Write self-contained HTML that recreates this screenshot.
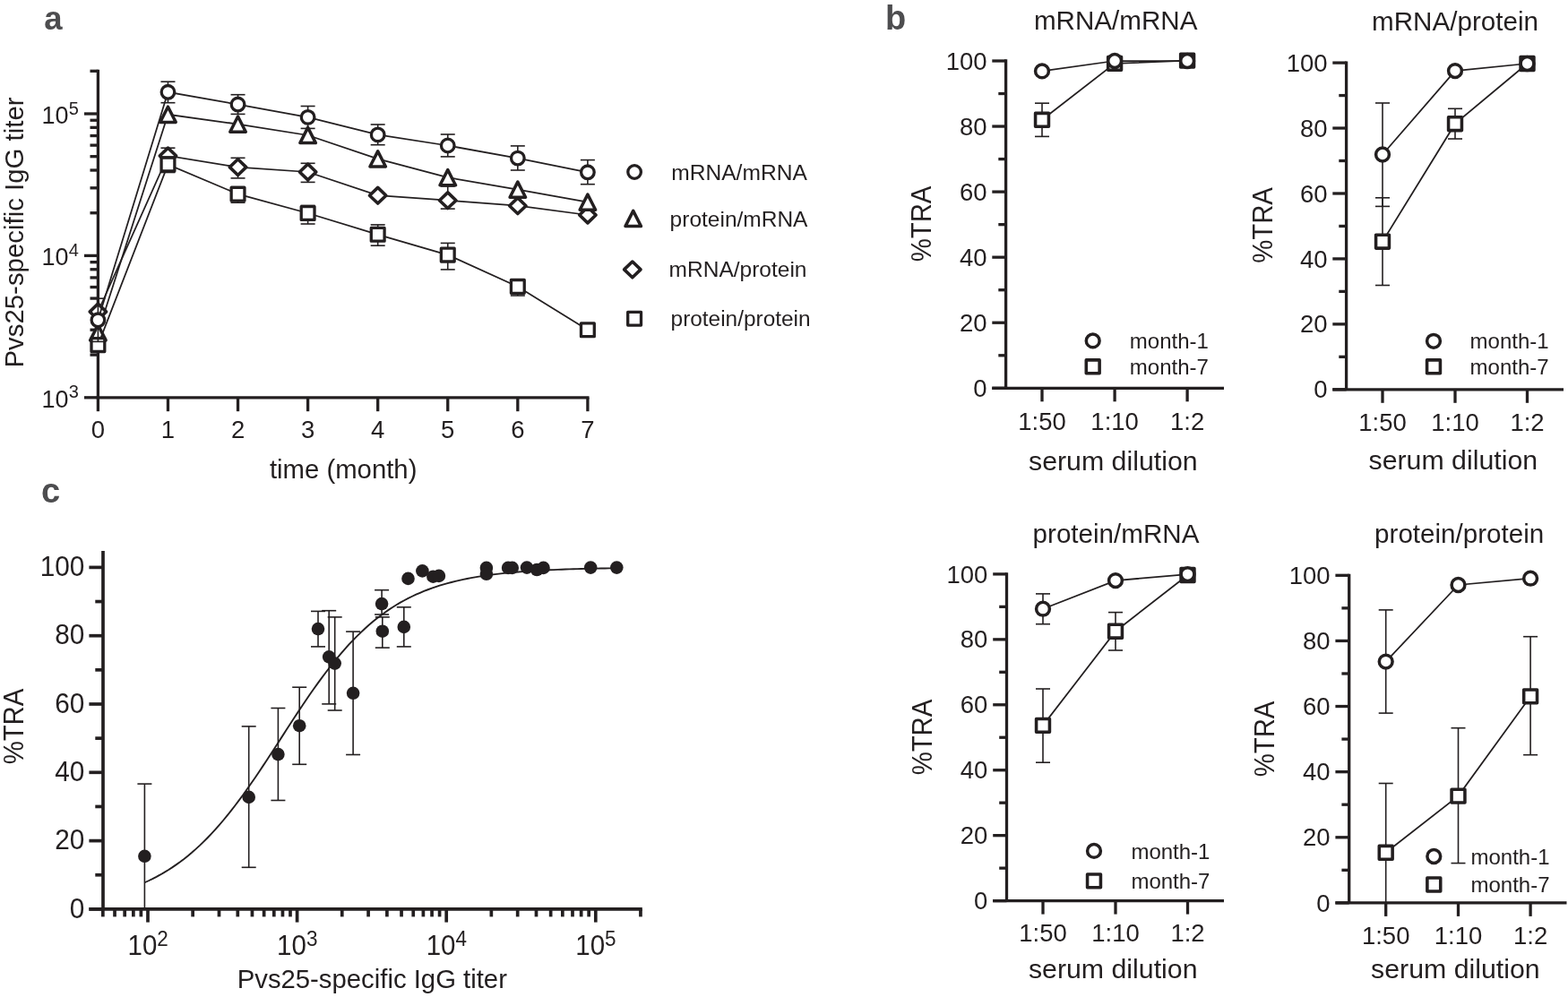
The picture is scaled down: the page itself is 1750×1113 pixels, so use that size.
<!DOCTYPE html>
<html><head><meta charset="utf-8"><title>Figure</title>
<style>
html,body{margin:0;padding:0;background:#fff;}
body{width:1750px;height:1113px;overflow:hidden;}
svg{display:block;}
text{font-family:'Liberation Sans', Arial, Helvetica, sans-serif;}
</style></head>
<body>
<svg width="1750" height="1113" viewBox="0 0 1750 1113" font-family="'Liberation Sans', Arial, Helvetica, sans-serif" fill="#231f20">
<rect width="1750" height="1113" fill="#fff"/>
<text x="49.30" y="32.90" font-size="36.5" font-weight="bold" fill="#4d4d4f">a</text>
<g stroke="#231f20" fill="none">
<line x1="109.40" y1="77.67" x2="109.40" y2="443.80" stroke-width="3.3" stroke-linecap="butt"/>
<line x1="94.00" y1="443.80" x2="109.40" y2="443.80" stroke-width="3.3" stroke-linecap="butt"/>
<line x1="100.50" y1="396.12" x2="109.40" y2="396.12" stroke-width="3.3" stroke-linecap="butt"/>
<line x1="100.50" y1="368.22" x2="109.40" y2="368.22" stroke-width="3.3" stroke-linecap="butt"/>
<line x1="100.50" y1="348.43" x2="109.40" y2="348.43" stroke-width="3.3" stroke-linecap="butt"/>
<line x1="100.50" y1="333.08" x2="109.40" y2="333.08" stroke-width="3.3" stroke-linecap="butt"/>
<line x1="100.50" y1="320.54" x2="109.40" y2="320.54" stroke-width="3.3" stroke-linecap="butt"/>
<line x1="100.50" y1="309.94" x2="109.40" y2="309.94" stroke-width="3.3" stroke-linecap="butt"/>
<line x1="100.50" y1="300.75" x2="109.40" y2="300.75" stroke-width="3.3" stroke-linecap="butt"/>
<line x1="100.50" y1="292.65" x2="109.40" y2="292.65" stroke-width="3.3" stroke-linecap="butt"/>
<line x1="94.00" y1="285.40" x2="109.40" y2="285.40" stroke-width="3.3" stroke-linecap="butt"/>
<line x1="100.50" y1="237.72" x2="109.40" y2="237.72" stroke-width="3.3" stroke-linecap="butt"/>
<line x1="100.50" y1="209.82" x2="109.40" y2="209.82" stroke-width="3.3" stroke-linecap="butt"/>
<line x1="100.50" y1="190.03" x2="109.40" y2="190.03" stroke-width="3.3" stroke-linecap="butt"/>
<line x1="100.50" y1="174.68" x2="109.40" y2="174.68" stroke-width="3.3" stroke-linecap="butt"/>
<line x1="100.50" y1="162.14" x2="109.40" y2="162.14" stroke-width="3.3" stroke-linecap="butt"/>
<line x1="100.50" y1="151.54" x2="109.40" y2="151.54" stroke-width="3.3" stroke-linecap="butt"/>
<line x1="100.50" y1="142.35" x2="109.40" y2="142.35" stroke-width="3.3" stroke-linecap="butt"/>
<line x1="100.50" y1="134.25" x2="109.40" y2="134.25" stroke-width="3.3" stroke-linecap="butt"/>
<line x1="94.00" y1="127.00" x2="109.40" y2="127.00" stroke-width="3.3" stroke-linecap="butt"/>
<line x1="100.50" y1="79.32" x2="109.40" y2="79.32" stroke-width="3.3" stroke-linecap="butt"/>
<line x1="107.75" y1="443.80" x2="657.54" y2="443.80" stroke-width="3.3" stroke-linecap="butt"/>
<line x1="109.40" y1="443.80" x2="109.40" y2="459.20" stroke-width="3.3" stroke-linecap="butt"/>
<line x1="187.47" y1="443.80" x2="187.47" y2="459.20" stroke-width="3.3" stroke-linecap="butt"/>
<line x1="265.54" y1="443.80" x2="265.54" y2="459.20" stroke-width="3.3" stroke-linecap="butt"/>
<line x1="343.61" y1="443.80" x2="343.61" y2="459.20" stroke-width="3.3" stroke-linecap="butt"/>
<line x1="421.68" y1="443.80" x2="421.68" y2="459.20" stroke-width="3.3" stroke-linecap="butt"/>
<line x1="499.75" y1="443.80" x2="499.75" y2="459.20" stroke-width="3.3" stroke-linecap="butt"/>
<line x1="577.82" y1="443.80" x2="577.82" y2="459.20" stroke-width="3.3" stroke-linecap="butt"/>
<line x1="655.89" y1="443.80" x2="655.89" y2="459.20" stroke-width="3.3" stroke-linecap="butt"/>
</g>
<g fill="#231f20" font-family="'Liberation Sans', Arial, Helvetica, sans-serif">
<text transform="translate(109.40,489.30) scale(1,1.035)" font-size="27.5" text-anchor="middle">0</text>
<text transform="translate(187.47,489.30) scale(1,1.035)" font-size="27.5" text-anchor="middle">1</text>
<text transform="translate(265.54,489.30) scale(1,1.035)" font-size="27.5" text-anchor="middle">2</text>
<text transform="translate(343.61,489.30) scale(1,1.035)" font-size="27.5" text-anchor="middle">3</text>
<text transform="translate(421.68,489.30) scale(1,1.035)" font-size="27.5" text-anchor="middle">4</text>
<text transform="translate(499.75,489.30) scale(1,1.035)" font-size="27.5" text-anchor="middle">5</text>
<text transform="translate(577.82,489.30) scale(1,1.035)" font-size="27.5" text-anchor="middle">6</text>
<text transform="translate(655.89,489.30) scale(1,1.035)" font-size="27.5" text-anchor="middle">7</text>
<text transform="translate(46.6,454.70) scale(1,1.035)" font-size="27">10<tspan font-size="20" dy="-10">3</tspan></text>
<text transform="translate(46.6,296.30) scale(1,1.035)" font-size="27">10<tspan font-size="20" dy="-10">4</tspan></text>
<text transform="translate(46.6,137.90) scale(1,1.035)" font-size="27">10<tspan font-size="20" dy="-10">5</tspan></text>
<text x="383.20" y="534.00" font-size="29.3" text-anchor="middle">time (month)</text>
<text transform="translate(26.10,259.50) rotate(-90)" font-size="29.4" text-anchor="middle">Pvs25-specific IgG titer</text>
<text x="749.20" y="201.10" font-size="24.6">mRNA/mRNA</text>
<text x="747.60" y="252.50" font-size="24.5">protein/mRNA</text>
<text x="746.60" y="308.90" font-size="24.5">mRNA/protein</text>
<text x="748.60" y="363.60" font-size="24.4">protein/protein</text>
</g>
<g stroke="#231f20" fill="none">
<polyline points="109.40,348.00 187.47,174.00 265.54,186.60 343.61,192.00 421.68,218.20 499.75,223.70 577.82,229.70 655.89,240.00" stroke-width="1.75" fill="none"/>
<line x1="187.47" y1="165.20" x2="187.47" y2="183.00" stroke-width="1.6" stroke-linecap="butt"/>
<line x1="179.47" y1="165.20" x2="195.47" y2="165.20" stroke-width="1.6" stroke-linecap="butt"/>
<line x1="179.47" y1="183.00" x2="195.47" y2="183.00" stroke-width="1.6" stroke-linecap="butt"/>
<line x1="265.54" y1="176.30" x2="265.54" y2="198.90" stroke-width="1.6" stroke-linecap="butt"/>
<line x1="257.54" y1="176.30" x2="273.54" y2="176.30" stroke-width="1.6" stroke-linecap="butt"/>
<line x1="257.54" y1="198.90" x2="273.54" y2="198.90" stroke-width="1.6" stroke-linecap="butt"/>
<line x1="343.61" y1="182.30" x2="343.61" y2="203.40" stroke-width="1.6" stroke-linecap="butt"/>
<line x1="335.61" y1="182.30" x2="351.61" y2="182.30" stroke-width="1.6" stroke-linecap="butt"/>
<line x1="335.61" y1="203.40" x2="351.61" y2="203.40" stroke-width="1.6" stroke-linecap="butt"/>
<line x1="499.75" y1="208.00" x2="499.75" y2="233.10" stroke-width="1.6" stroke-linecap="butt"/>
<line x1="491.75" y1="208.00" x2="507.75" y2="208.00" stroke-width="1.6" stroke-linecap="butt"/>
<line x1="491.75" y1="233.10" x2="507.75" y2="233.10" stroke-width="1.6" stroke-linecap="butt"/>
<path d="M109.40,339.15 L118.60,348.00 L109.40,356.85 L100.20,348.00 Z" fill="#fff" stroke-width="3.6" stroke-linejoin="round"/>
<path d="M187.47,165.15 L196.67,174.00 L187.47,182.85 L178.27,174.00 Z" fill="#fff" stroke-width="3.6" stroke-linejoin="round"/>
<path d="M265.54,177.75 L274.74,186.60 L265.54,195.45 L256.34,186.60 Z" fill="#fff" stroke-width="3.6" stroke-linejoin="round"/>
<path d="M343.61,183.15 L352.81,192.00 L343.61,200.85 L334.41,192.00 Z" fill="#fff" stroke-width="3.6" stroke-linejoin="round"/>
<path d="M421.68,209.35 L430.88,218.20 L421.68,227.05 L412.48,218.20 Z" fill="#fff" stroke-width="3.6" stroke-linejoin="round"/>
<path d="M499.75,214.85 L508.95,223.70 L499.75,232.55 L490.55,223.70 Z" fill="#fff" stroke-width="3.6" stroke-linejoin="round"/>
<path d="M577.82,220.85 L587.02,229.70 L577.82,238.55 L568.62,229.70 Z" fill="#fff" stroke-width="3.6" stroke-linejoin="round"/>
<path d="M655.89,231.15 L665.09,240.00 L655.89,248.85 L646.69,240.00 Z" fill="#fff" stroke-width="3.6" stroke-linejoin="round"/>
<polyline points="109.40,371.30 187.47,127.80 265.54,138.60 343.61,151.00 421.68,177.45 499.75,198.20 577.82,211.70 655.89,225.70" stroke-width="1.75" fill="none"/>
<path d="M109.40,362.70 L118.15,379.90 L100.65,379.90 Z" fill="#fff" stroke-width="3.5" stroke-linejoin="round"/>
<path d="M187.47,119.20 L196.22,136.40 L178.72,136.40 Z" fill="#fff" stroke-width="3.5" stroke-linejoin="round"/>
<path d="M265.54,130.00 L274.29,147.20 L256.79,147.20 Z" fill="#fff" stroke-width="3.5" stroke-linejoin="round"/>
<path d="M343.61,142.40 L352.36,159.60 L334.86,159.60 Z" fill="#fff" stroke-width="3.5" stroke-linejoin="round"/>
<path d="M421.68,168.85 L430.43,186.05 L412.93,186.05 Z" fill="#fff" stroke-width="3.5" stroke-linejoin="round"/>
<path d="M499.75,189.60 L508.50,206.80 L491.00,206.80 Z" fill="#fff" stroke-width="3.5" stroke-linejoin="round"/>
<path d="M577.82,203.10 L586.57,220.30 L569.07,220.30 Z" fill="#fff" stroke-width="3.5" stroke-linejoin="round"/>
<path d="M655.89,217.10 L664.64,234.30 L647.14,234.30 Z" fill="#fff" stroke-width="3.5" stroke-linejoin="round"/>
<polyline points="109.40,385.10 187.47,183.60 265.54,216.70 343.61,238.00 421.68,261.80 499.75,284.60 577.82,319.90 655.89,368.30" stroke-width="1.75" fill="none"/>
<line x1="187.47" y1="175.00" x2="187.47" y2="192.50" stroke-width="1.6" stroke-linecap="butt"/>
<line x1="179.47" y1="175.00" x2="195.47" y2="175.00" stroke-width="1.6" stroke-linecap="butt"/>
<line x1="179.47" y1="192.50" x2="195.47" y2="192.50" stroke-width="1.6" stroke-linecap="butt"/>
<line x1="265.54" y1="208.50" x2="265.54" y2="226.20" stroke-width="1.6" stroke-linecap="butt"/>
<line x1="257.54" y1="208.50" x2="273.54" y2="208.50" stroke-width="1.6" stroke-linecap="butt"/>
<line x1="257.54" y1="226.20" x2="273.54" y2="226.20" stroke-width="1.6" stroke-linecap="butt"/>
<line x1="343.61" y1="229.40" x2="343.61" y2="250.00" stroke-width="1.6" stroke-linecap="butt"/>
<line x1="335.61" y1="229.40" x2="351.61" y2="229.40" stroke-width="1.6" stroke-linecap="butt"/>
<line x1="335.61" y1="250.00" x2="351.61" y2="250.00" stroke-width="1.6" stroke-linecap="butt"/>
<line x1="421.68" y1="250.90" x2="421.68" y2="274.20" stroke-width="1.6" stroke-linecap="butt"/>
<line x1="413.68" y1="250.90" x2="429.68" y2="250.90" stroke-width="1.6" stroke-linecap="butt"/>
<line x1="413.68" y1="274.20" x2="429.68" y2="274.20" stroke-width="1.6" stroke-linecap="butt"/>
<line x1="499.75" y1="271.40" x2="499.75" y2="300.90" stroke-width="1.6" stroke-linecap="butt"/>
<line x1="491.75" y1="271.40" x2="507.75" y2="271.40" stroke-width="1.6" stroke-linecap="butt"/>
<line x1="491.75" y1="300.90" x2="507.75" y2="300.90" stroke-width="1.6" stroke-linecap="butt"/>
<line x1="577.82" y1="312.80" x2="577.82" y2="330.00" stroke-width="1.6" stroke-linecap="butt"/>
<line x1="569.82" y1="312.80" x2="585.82" y2="312.80" stroke-width="1.6" stroke-linecap="butt"/>
<line x1="569.82" y1="330.00" x2="585.82" y2="330.00" stroke-width="1.6" stroke-linecap="butt"/>
<rect x="102.00" y="377.70" width="14.8" height="14.8" fill="#fff" stroke-width="3.3" stroke-linejoin="round"/>
<rect x="180.07" y="176.20" width="14.8" height="14.8" fill="#fff" stroke-width="3.3" stroke-linejoin="round"/>
<rect x="258.14" y="209.30" width="14.8" height="14.8" fill="#fff" stroke-width="3.3" stroke-linejoin="round"/>
<rect x="336.21" y="230.60" width="14.8" height="14.8" fill="#fff" stroke-width="3.3" stroke-linejoin="round"/>
<rect x="414.28" y="254.40" width="14.8" height="14.8" fill="#fff" stroke-width="3.3" stroke-linejoin="round"/>
<rect x="492.35" y="277.20" width="14.8" height="14.8" fill="#fff" stroke-width="3.3" stroke-linejoin="round"/>
<rect x="570.42" y="312.50" width="14.8" height="14.8" fill="#fff" stroke-width="3.3" stroke-linejoin="round"/>
<rect x="648.49" y="360.90" width="14.8" height="14.8" fill="#fff" stroke-width="3.3" stroke-linejoin="round"/>
<polyline points="109.40,357.30 187.47,102.80 265.54,116.55 343.61,130.90 421.68,150.40 499.75,162.50 577.82,176.60 655.89,192.30" stroke-width="1.75" fill="none"/>
<line x1="109.40" y1="333.20" x2="109.40" y2="381.40" stroke-width="1.6" stroke-linecap="butt"/>
<line x1="101.40" y1="333.20" x2="117.40" y2="333.20" stroke-width="1.6" stroke-linecap="butt"/>
<line x1="101.40" y1="381.40" x2="117.40" y2="381.40" stroke-width="1.6" stroke-linecap="butt"/>
<line x1="187.47" y1="91.20" x2="187.47" y2="114.70" stroke-width="1.6" stroke-linecap="butt"/>
<line x1="179.47" y1="91.20" x2="195.47" y2="91.20" stroke-width="1.6" stroke-linecap="butt"/>
<line x1="179.47" y1="114.70" x2="195.47" y2="114.70" stroke-width="1.6" stroke-linecap="butt"/>
<line x1="265.54" y1="105.70" x2="265.54" y2="127.40" stroke-width="1.6" stroke-linecap="butt"/>
<line x1="257.54" y1="105.70" x2="273.54" y2="105.70" stroke-width="1.6" stroke-linecap="butt"/>
<line x1="257.54" y1="127.40" x2="273.54" y2="127.40" stroke-width="1.6" stroke-linecap="butt"/>
<line x1="343.61" y1="118.50" x2="343.61" y2="143.40" stroke-width="1.6" stroke-linecap="butt"/>
<line x1="335.61" y1="118.50" x2="351.61" y2="118.50" stroke-width="1.6" stroke-linecap="butt"/>
<line x1="335.61" y1="143.40" x2="351.61" y2="143.40" stroke-width="1.6" stroke-linecap="butt"/>
<line x1="421.68" y1="139.00" x2="421.68" y2="161.70" stroke-width="1.6" stroke-linecap="butt"/>
<line x1="413.68" y1="139.00" x2="429.68" y2="139.00" stroke-width="1.6" stroke-linecap="butt"/>
<line x1="413.68" y1="161.70" x2="429.68" y2="161.70" stroke-width="1.6" stroke-linecap="butt"/>
<line x1="499.75" y1="150.00" x2="499.75" y2="174.90" stroke-width="1.6" stroke-linecap="butt"/>
<line x1="491.75" y1="150.00" x2="507.75" y2="150.00" stroke-width="1.6" stroke-linecap="butt"/>
<line x1="491.75" y1="174.90" x2="507.75" y2="174.90" stroke-width="1.6" stroke-linecap="butt"/>
<line x1="577.82" y1="162.90" x2="577.82" y2="190.00" stroke-width="1.6" stroke-linecap="butt"/>
<line x1="569.82" y1="162.90" x2="585.82" y2="162.90" stroke-width="1.6" stroke-linecap="butt"/>
<line x1="569.82" y1="190.00" x2="585.82" y2="190.00" stroke-width="1.6" stroke-linecap="butt"/>
<line x1="655.89" y1="178.60" x2="655.89" y2="205.70" stroke-width="1.6" stroke-linecap="butt"/>
<line x1="647.89" y1="178.60" x2="663.89" y2="178.60" stroke-width="1.6" stroke-linecap="butt"/>
<line x1="647.89" y1="205.70" x2="663.89" y2="205.70" stroke-width="1.6" stroke-linecap="butt"/>
<circle cx="109.40" cy="357.30" r="7.3" fill="#fff" stroke-width="3.3"/>
<circle cx="187.47" cy="102.80" r="7.3" fill="#fff" stroke-width="3.3"/>
<circle cx="265.54" cy="116.55" r="7.3" fill="#fff" stroke-width="3.3"/>
<circle cx="343.61" cy="130.90" r="7.3" fill="#fff" stroke-width="3.3"/>
<circle cx="421.68" cy="150.40" r="7.3" fill="#fff" stroke-width="3.3"/>
<circle cx="499.75" cy="162.50" r="7.3" fill="#fff" stroke-width="3.3"/>
<circle cx="577.82" cy="176.60" r="7.3" fill="#fff" stroke-width="3.3"/>
<circle cx="655.89" cy="192.30" r="7.3" fill="#fff" stroke-width="3.3"/>
<circle cx="708.10" cy="192.00" r="7.3" fill="#fff" stroke-width="3.3"/>
<path d="M706.70,235.40 L715.45,252.60 L697.95,252.60 Z" fill="#fff" stroke-width="3.5" stroke-linejoin="round"/>
<path d="M705.80,292.05 L715.00,300.90 L705.80,309.75 L696.60,300.90 Z" fill="#fff" stroke-width="3.6" stroke-linejoin="round"/>
<rect x="700.70" y="348.30" width="14.8" height="14.8" fill="#fff" stroke-width="3.3" stroke-linejoin="round"/>
</g>
<text x="46.00" y="560.50" font-size="38" font-weight="bold" fill="#4d4d4f">c</text>
<g stroke="#231f20" fill="none">
<line x1="115.00" y1="614.90" x2="115.00" y2="1014.90" stroke-width="3.7" stroke-linecap="butt"/>
<line x1="99.40" y1="1014.90" x2="115.00" y2="1014.90" stroke-width="3.7" stroke-linecap="butt"/>
<line x1="106.30" y1="976.75" x2="115.00" y2="976.75" stroke-width="3.7" stroke-linecap="butt"/>
<line x1="99.40" y1="938.60" x2="115.00" y2="938.60" stroke-width="3.7" stroke-linecap="butt"/>
<line x1="106.30" y1="900.45" x2="115.00" y2="900.45" stroke-width="3.7" stroke-linecap="butt"/>
<line x1="99.40" y1="862.30" x2="115.00" y2="862.30" stroke-width="3.7" stroke-linecap="butt"/>
<line x1="106.30" y1="824.15" x2="115.00" y2="824.15" stroke-width="3.7" stroke-linecap="butt"/>
<line x1="99.40" y1="786.00" x2="115.00" y2="786.00" stroke-width="3.7" stroke-linecap="butt"/>
<line x1="106.30" y1="747.85" x2="115.00" y2="747.85" stroke-width="3.7" stroke-linecap="butt"/>
<line x1="99.40" y1="709.70" x2="115.00" y2="709.70" stroke-width="3.7" stroke-linecap="butt"/>
<line x1="106.30" y1="671.55" x2="115.00" y2="671.55" stroke-width="3.7" stroke-linecap="butt"/>
<line x1="99.40" y1="633.40" x2="115.00" y2="633.40" stroke-width="3.7" stroke-linecap="butt"/>
<line x1="99.40" y1="1014.90" x2="716.80" y2="1014.90" stroke-width="3.7" stroke-linecap="butt"/>
<line x1="114.85" y1="1014.90" x2="114.85" y2="1023.40" stroke-width="3.7" stroke-linecap="butt"/>
<line x1="128.04" y1="1014.90" x2="128.04" y2="1023.40" stroke-width="3.7" stroke-linecap="butt"/>
<line x1="139.19" y1="1014.90" x2="139.19" y2="1023.40" stroke-width="3.7" stroke-linecap="butt"/>
<line x1="148.85" y1="1014.90" x2="148.85" y2="1023.40" stroke-width="3.7" stroke-linecap="butt"/>
<line x1="157.38" y1="1014.90" x2="157.38" y2="1023.40" stroke-width="3.7" stroke-linecap="butt"/>
<line x1="165.00" y1="1014.90" x2="165.00" y2="1029.60" stroke-width="3.7" stroke-linecap="butt"/>
<line x1="215.15" y1="1014.90" x2="215.15" y2="1023.40" stroke-width="3.7" stroke-linecap="butt"/>
<line x1="244.49" y1="1014.90" x2="244.49" y2="1023.40" stroke-width="3.7" stroke-linecap="butt"/>
<line x1="265.30" y1="1014.90" x2="265.30" y2="1023.40" stroke-width="3.7" stroke-linecap="butt"/>
<line x1="281.45" y1="1014.90" x2="281.45" y2="1023.40" stroke-width="3.7" stroke-linecap="butt"/>
<line x1="294.64" y1="1014.90" x2="294.64" y2="1023.40" stroke-width="3.7" stroke-linecap="butt"/>
<line x1="305.79" y1="1014.90" x2="305.79" y2="1023.40" stroke-width="3.7" stroke-linecap="butt"/>
<line x1="315.45" y1="1014.90" x2="315.45" y2="1023.40" stroke-width="3.7" stroke-linecap="butt"/>
<line x1="323.98" y1="1014.90" x2="323.98" y2="1023.40" stroke-width="3.7" stroke-linecap="butt"/>
<line x1="331.60" y1="1014.90" x2="331.60" y2="1029.60" stroke-width="3.7" stroke-linecap="butt"/>
<line x1="381.75" y1="1014.90" x2="381.75" y2="1023.40" stroke-width="3.7" stroke-linecap="butt"/>
<line x1="411.09" y1="1014.90" x2="411.09" y2="1023.40" stroke-width="3.7" stroke-linecap="butt"/>
<line x1="431.90" y1="1014.90" x2="431.90" y2="1023.40" stroke-width="3.7" stroke-linecap="butt"/>
<line x1="448.05" y1="1014.90" x2="448.05" y2="1023.40" stroke-width="3.7" stroke-linecap="butt"/>
<line x1="461.24" y1="1014.90" x2="461.24" y2="1023.40" stroke-width="3.7" stroke-linecap="butt"/>
<line x1="472.39" y1="1014.90" x2="472.39" y2="1023.40" stroke-width="3.7" stroke-linecap="butt"/>
<line x1="482.05" y1="1014.90" x2="482.05" y2="1023.40" stroke-width="3.7" stroke-linecap="butt"/>
<line x1="490.58" y1="1014.90" x2="490.58" y2="1023.40" stroke-width="3.7" stroke-linecap="butt"/>
<line x1="498.20" y1="1014.90" x2="498.20" y2="1029.60" stroke-width="3.7" stroke-linecap="butt"/>
<line x1="548.35" y1="1014.90" x2="548.35" y2="1023.40" stroke-width="3.7" stroke-linecap="butt"/>
<line x1="577.69" y1="1014.90" x2="577.69" y2="1023.40" stroke-width="3.7" stroke-linecap="butt"/>
<line x1="598.50" y1="1014.90" x2="598.50" y2="1023.40" stroke-width="3.7" stroke-linecap="butt"/>
<line x1="614.65" y1="1014.90" x2="614.65" y2="1023.40" stroke-width="3.7" stroke-linecap="butt"/>
<line x1="627.84" y1="1014.90" x2="627.84" y2="1023.40" stroke-width="3.7" stroke-linecap="butt"/>
<line x1="638.99" y1="1014.90" x2="638.99" y2="1023.40" stroke-width="3.7" stroke-linecap="butt"/>
<line x1="648.65" y1="1014.90" x2="648.65" y2="1023.40" stroke-width="3.7" stroke-linecap="butt"/>
<line x1="657.18" y1="1014.90" x2="657.18" y2="1023.40" stroke-width="3.7" stroke-linecap="butt"/>
<line x1="664.80" y1="1014.90" x2="664.80" y2="1029.60" stroke-width="3.7" stroke-linecap="butt"/>
<line x1="714.95" y1="1014.90" x2="714.95" y2="1023.40" stroke-width="3.7" stroke-linecap="butt"/>
</g>
<g fill="#231f20" font-family="'Liberation Sans', Arial, Helvetica, sans-serif">
<text transform="translate(94.40,1024.50) scale(1,1.035)" font-size="29.8" text-anchor="end">0</text>
<text transform="translate(94.40,948.20) scale(1,1.035)" font-size="29.8" text-anchor="end">20</text>
<text transform="translate(94.40,871.90) scale(1,1.035)" font-size="29.8" text-anchor="end">40</text>
<text transform="translate(94.40,795.60) scale(1,1.035)" font-size="29.8" text-anchor="end">60</text>
<text transform="translate(94.40,719.30) scale(1,1.035)" font-size="29.8" text-anchor="end">80</text>
<text transform="translate(94.40,643.00) scale(1,1.035)" font-size="29.8" text-anchor="end">100</text>
<text transform="translate(142.50,1066.0) scale(1,1.035)" font-size="29.5">10<tspan font-size="22.5" dy="-9.2">2</tspan></text>
<text transform="translate(309.10,1066.0) scale(1,1.035)" font-size="29.5">10<tspan font-size="22.5" dy="-9.2">3</tspan></text>
<text transform="translate(475.70,1066.0) scale(1,1.035)" font-size="29.5">10<tspan font-size="22.5" dy="-9.2">4</tspan></text>
<text transform="translate(642.30,1066.0) scale(1,1.035)" font-size="29.5">10<tspan font-size="22.5" dy="-9.2">5</tspan></text>
<text x="264.70" y="1102.70" font-size="29.3">Pvs25-specific IgG titer</text>
<text transform="translate(26.00,811.00) rotate(-90) scale(1,1.04)" font-size="29.3" text-anchor="middle">%TRA</text>
</g>
<g stroke="#231f20" fill="none">
<line x1="161.40" y1="875.10" x2="161.40" y2="1014.90" stroke-width="1.6" stroke-linecap="butt"/>
<line x1="153.40" y1="875.10" x2="169.40" y2="875.10" stroke-width="1.6" stroke-linecap="butt"/>
<line x1="277.70" y1="810.90" x2="277.70" y2="968.30" stroke-width="1.6" stroke-linecap="butt"/>
<line x1="269.70" y1="810.90" x2="285.70" y2="810.90" stroke-width="1.6" stroke-linecap="butt"/>
<line x1="269.70" y1="968.30" x2="285.70" y2="968.30" stroke-width="1.6" stroke-linecap="butt"/>
<line x1="310.40" y1="790.50" x2="310.40" y2="893.50" stroke-width="1.6" stroke-linecap="butt"/>
<line x1="302.40" y1="790.50" x2="318.40" y2="790.50" stroke-width="1.6" stroke-linecap="butt"/>
<line x1="302.40" y1="893.50" x2="318.40" y2="893.50" stroke-width="1.6" stroke-linecap="butt"/>
<line x1="334.20" y1="767.20" x2="334.20" y2="853.30" stroke-width="1.6" stroke-linecap="butt"/>
<line x1="326.20" y1="767.20" x2="342.20" y2="767.20" stroke-width="1.6" stroke-linecap="butt"/>
<line x1="326.20" y1="853.30" x2="342.20" y2="853.30" stroke-width="1.6" stroke-linecap="butt"/>
<line x1="355.00" y1="682.40" x2="355.00" y2="721.90" stroke-width="1.6" stroke-linecap="butt"/>
<line x1="347.00" y1="682.40" x2="363.00" y2="682.40" stroke-width="1.6" stroke-linecap="butt"/>
<line x1="347.00" y1="721.90" x2="363.00" y2="721.90" stroke-width="1.6" stroke-linecap="butt"/>
<line x1="367.20" y1="681.70" x2="367.20" y2="785.90" stroke-width="1.6" stroke-linecap="butt"/>
<line x1="359.20" y1="681.70" x2="375.20" y2="681.70" stroke-width="1.6" stroke-linecap="butt"/>
<line x1="359.20" y1="785.90" x2="375.20" y2="785.90" stroke-width="1.6" stroke-linecap="butt"/>
<line x1="373.70" y1="688.90" x2="373.70" y2="793.00" stroke-width="1.6" stroke-linecap="butt"/>
<line x1="365.70" y1="688.90" x2="381.70" y2="688.90" stroke-width="1.6" stroke-linecap="butt"/>
<line x1="365.70" y1="793.00" x2="381.70" y2="793.00" stroke-width="1.6" stroke-linecap="butt"/>
<line x1="394.10" y1="705.10" x2="394.10" y2="842.50" stroke-width="1.6" stroke-linecap="butt"/>
<line x1="386.10" y1="705.10" x2="402.10" y2="705.10" stroke-width="1.6" stroke-linecap="butt"/>
<line x1="386.10" y1="842.50" x2="402.10" y2="842.50" stroke-width="1.6" stroke-linecap="butt"/>
<line x1="426.10" y1="658.70" x2="426.10" y2="686.00" stroke-width="1.6" stroke-linecap="butt"/>
<line x1="418.10" y1="658.70" x2="434.10" y2="658.70" stroke-width="1.6" stroke-linecap="butt"/>
<line x1="418.10" y1="686.00" x2="434.10" y2="686.00" stroke-width="1.6" stroke-linecap="butt"/>
<line x1="426.80" y1="688.90" x2="426.80" y2="723.10" stroke-width="1.6" stroke-linecap="butt"/>
<line x1="418.80" y1="688.90" x2="434.80" y2="688.90" stroke-width="1.6" stroke-linecap="butt"/>
<line x1="418.80" y1="723.10" x2="434.80" y2="723.10" stroke-width="1.6" stroke-linecap="butt"/>
<line x1="450.80" y1="677.80" x2="450.80" y2="721.90" stroke-width="1.6" stroke-linecap="butt"/>
<line x1="442.80" y1="677.80" x2="458.80" y2="677.80" stroke-width="1.6" stroke-linecap="butt"/>
<line x1="442.80" y1="721.90" x2="458.80" y2="721.90" stroke-width="1.6" stroke-linecap="butt"/>
<polyline points="161.40,985.25 165.79,983.24 170.18,981.11 174.57,978.85 178.96,976.45 183.35,973.91 187.75,971.22 192.14,968.39 196.53,965.39 200.92,962.24 205.31,958.91 209.70,955.41 214.09,951.74 218.48,947.89 222.87,943.86 227.26,939.64 231.65,935.23 236.04,930.64 240.44,925.86 244.83,920.90 249.22,915.75 253.61,910.43 258.00,904.93 262.39,899.26 266.78,893.43 271.17,887.44 275.56,881.32 279.95,875.06 284.34,868.68 288.73,862.19 293.12,855.61 297.52,848.95 301.91,842.23 306.30,835.47 310.69,828.67 315.08,821.87 319.47,815.07 323.86,808.29 328.25,801.55 332.64,794.87 337.03,788.27 341.42,781.75 345.81,775.33 350.21,769.03 354.60,762.86 358.99,756.83 363.38,750.95 367.77,745.22 372.16,739.66 376.55,734.28 380.94,729.07 385.33,724.05 389.72,719.21 394.11,714.56 398.50,710.09 402.90,705.81 407.29,701.72 411.68,697.81 416.07,694.08 420.46,690.52 424.85,687.14 429.24,683.93 433.63,680.88 438.02,677.99 442.41,675.26 446.80,672.67 451.20,670.23 455.59,667.92 459.98,665.75 464.37,663.69 468.76,661.76 473.15,659.95 477.54,658.24 481.93,656.63 486.32,655.12 490.71,653.70 495.10,652.38 499.49,651.13 503.88,649.96 508.28,648.87 512.67,647.84 517.06,646.88 521.45,645.98 525.84,645.14 530.23,644.36 534.62,643.62 539.01,642.94 543.40,642.30 547.79,641.70 552.18,641.14 556.58,640.61 560.97,640.13 565.36,639.67 569.75,639.24 574.14,638.85 578.53,638.48 582.92,638.13 587.31,637.81 591.70,637.51 596.09,637.23 600.48,636.97 604.87,636.72 609.26,636.50 613.66,636.29 618.05,636.09 622.44,635.90 626.83,635.73 631.22,635.57 635.61,635.42 640.00,635.29 644.39,635.16 648.78,635.04 653.17,634.92 657.56,634.82 661.96,634.72 666.35,634.63 670.74,634.55 675.13,634.47 679.52,634.39 683.91,634.33 688.30,634.26" stroke-width="1.9" fill="none"/>
</g>
<circle cx="161.40" cy="955.80" r="7.3" fill="#231f20" stroke="none"/>
<circle cx="277.70" cy="889.90" r="7.3" fill="#231f20" stroke="none"/>
<circle cx="310.40" cy="842.10" r="7.3" fill="#231f20" stroke="none"/>
<circle cx="334.20" cy="810.20" r="7.3" fill="#231f20" stroke="none"/>
<circle cx="355.00" cy="702.10" r="7.3" fill="#231f20" stroke="none"/>
<circle cx="367.20" cy="733.40" r="7.3" fill="#231f20" stroke="none"/>
<circle cx="373.70" cy="740.60" r="7.3" fill="#231f20" stroke="none"/>
<circle cx="394.10" cy="773.80" r="7.3" fill="#231f20" stroke="none"/>
<circle cx="426.10" cy="674.10" r="7.3" fill="#231f20" stroke="none"/>
<circle cx="426.80" cy="704.70" r="7.3" fill="#231f20" stroke="none"/>
<circle cx="450.80" cy="699.90" r="7.3" fill="#231f20" stroke="none"/>
<circle cx="455.50" cy="645.90" r="7.3" fill="#231f20" stroke="none"/>
<circle cx="471.40" cy="637.40" r="7.3" fill="#231f20" stroke="none"/>
<circle cx="483.40" cy="643.70" r="7.3" fill="#231f20" stroke="none"/>
<circle cx="489.90" cy="642.90" r="7.3" fill="#231f20" stroke="none"/>
<circle cx="542.90" cy="633.90" r="7.3" fill="#231f20" stroke="none"/>
<circle cx="542.90" cy="640.80" r="7.3" fill="#231f20" stroke="none"/>
<circle cx="567.10" cy="633.90" r="7.3" fill="#231f20" stroke="none"/>
<circle cx="571.70" cy="633.90" r="7.3" fill="#231f20" stroke="none"/>
<circle cx="588.00" cy="633.60" r="7.3" fill="#231f20" stroke="none"/>
<circle cx="599.20" cy="636.00" r="7.3" fill="#231f20" stroke="none"/>
<circle cx="606.50" cy="633.90" r="7.3" fill="#231f20" stroke="none"/>
<circle cx="659.20" cy="633.60" r="7.3" fill="#231f20" stroke="none"/>
<circle cx="688.30" cy="633.60" r="7.3" fill="#231f20" stroke="none"/>
<text x="988.00" y="32.80" font-size="38" font-weight="bold" fill="#4d4d4f">b</text>
<g stroke="#231f20" fill="none">
<line x1="1122.60" y1="66.35" x2="1122.60" y2="433.30" stroke-width="3.3" stroke-linecap="butt"/>
<line x1="1107.30" y1="433.30" x2="1122.60" y2="433.30" stroke-width="3.3" stroke-linecap="butt"/>
<line x1="1114.30" y1="396.77" x2="1122.60" y2="396.77" stroke-width="3.3" stroke-linecap="butt"/>
<line x1="1107.30" y1="360.24" x2="1122.60" y2="360.24" stroke-width="3.3" stroke-linecap="butt"/>
<line x1="1114.30" y1="323.71" x2="1122.60" y2="323.71" stroke-width="3.3" stroke-linecap="butt"/>
<line x1="1107.30" y1="287.18" x2="1122.60" y2="287.18" stroke-width="3.3" stroke-linecap="butt"/>
<line x1="1114.30" y1="250.65" x2="1122.60" y2="250.65" stroke-width="3.3" stroke-linecap="butt"/>
<line x1="1107.30" y1="214.12" x2="1122.60" y2="214.12" stroke-width="3.3" stroke-linecap="butt"/>
<line x1="1114.30" y1="177.59" x2="1122.60" y2="177.59" stroke-width="3.3" stroke-linecap="butt"/>
<line x1="1107.30" y1="141.06" x2="1122.60" y2="141.06" stroke-width="3.3" stroke-linecap="butt"/>
<line x1="1114.30" y1="104.53" x2="1122.60" y2="104.53" stroke-width="3.3" stroke-linecap="butt"/>
<line x1="1107.30" y1="68.00" x2="1122.60" y2="68.00" stroke-width="3.3" stroke-linecap="butt"/>
<line x1="1107.30" y1="433.30" x2="1366.00" y2="433.30" stroke-width="3.3" stroke-linecap="butt"/>
<line x1="1163.00" y1="433.30" x2="1163.00" y2="448.30" stroke-width="3.3" stroke-linecap="butt"/>
<line x1="1244.10" y1="433.30" x2="1244.10" y2="448.30" stroke-width="3.3" stroke-linecap="butt"/>
<line x1="1325.10" y1="433.30" x2="1325.10" y2="448.30" stroke-width="3.3" stroke-linecap="butt"/>
</g>
<g fill="#231f20" font-family="'Liberation Sans', Arial, Helvetica, sans-serif">
<text transform="translate(1101.50,442.90) scale(1,1.035)" font-size="27.5" text-anchor="end">0</text>
<text transform="translate(1101.50,369.84) scale(1,1.035)" font-size="27.5" text-anchor="end">20</text>
<text transform="translate(1101.50,296.78) scale(1,1.035)" font-size="27.5" text-anchor="end">40</text>
<text transform="translate(1101.50,223.72) scale(1,1.035)" font-size="27.5" text-anchor="end">60</text>
<text transform="translate(1101.50,150.66) scale(1,1.035)" font-size="27.5" text-anchor="end">80</text>
<text transform="translate(1101.50,77.60) scale(1,1.035)" font-size="27.5" text-anchor="end">100</text>
<text transform="translate(1163.00,480.30) scale(1,1.035)" font-size="27.5" text-anchor="middle">1:50</text>
<text transform="translate(1244.10,480.30) scale(1,1.035)" font-size="27.5" text-anchor="middle">1:10</text>
<text transform="translate(1325.10,480.30) scale(1,1.035)" font-size="27.5" text-anchor="middle">1:2</text>
<text x="1245.20" y="32.70" font-size="29.6" text-anchor="middle">mRNA/mRNA</text>
<text x="1242.35" y="524.50" font-size="30.3" text-anchor="middle">serum dilution</text>
<text transform="translate(1038.60,249.90) rotate(-90) scale(1,1.04)" font-size="29.3" text-anchor="middle">%TRA</text>
<text x="1260.80" y="389.00" font-size="24">month-1</text>
<text x="1260.80" y="418.10" font-size="24">month-7</text>
</g>
<g stroke="#231f20" fill="none">
<polyline points="1163.00,133.80 1244.10,70.90 1325.10,67.63" stroke-width="1.75"/>
<polyline points="1163.00,79.40 1244.10,68.00 1325.10,68.00" stroke-width="1.75"/>
<line x1="1163.00" y1="115.20" x2="1163.00" y2="152.40" stroke-width="1.6" stroke-linecap="butt"/>
<line x1="1155.00" y1="115.20" x2="1171.00" y2="115.20" stroke-width="1.6" stroke-linecap="butt"/>
<line x1="1155.00" y1="152.40" x2="1171.00" y2="152.40" stroke-width="1.6" stroke-linecap="butt"/>
<rect x="1155.58" y="126.38" width="14.85" height="14.85" fill="#fff" stroke-width="3.55" stroke-linejoin="round"/>
<rect x="1236.67" y="63.48" width="14.85" height="14.85" fill="#fff" stroke-width="3.55" stroke-linejoin="round"/>
<rect x="1317.67" y="60.21" width="14.85" height="14.85" fill="#fff" stroke-width="3.55" stroke-linejoin="round"/>
<circle cx="1163.00" cy="79.40" r="7.4" fill="#fff" stroke-width="3.5"/>
<circle cx="1244.10" cy="68.00" r="7.4" fill="#fff" stroke-width="3.5"/>
<circle cx="1325.10" cy="68.00" r="7.4" fill="#fff" stroke-width="3.5"/>
<circle cx="1219.70" cy="380.40" r="7.4" fill="#fff" stroke-width="3.5"/>
<rect x="1212.28" y="401.88" width="14.85" height="14.85" fill="#fff" stroke-width="3.55" stroke-linejoin="round"/>
</g>
<g stroke="#231f20" fill="none">
<line x1="1502.60" y1="68.45" x2="1502.60" y2="434.80" stroke-width="3.3" stroke-linecap="butt"/>
<line x1="1487.30" y1="434.80" x2="1502.60" y2="434.80" stroke-width="3.3" stroke-linecap="butt"/>
<line x1="1494.30" y1="398.33" x2="1502.60" y2="398.33" stroke-width="3.3" stroke-linecap="butt"/>
<line x1="1487.30" y1="361.86" x2="1502.60" y2="361.86" stroke-width="3.3" stroke-linecap="butt"/>
<line x1="1494.30" y1="325.39" x2="1502.60" y2="325.39" stroke-width="3.3" stroke-linecap="butt"/>
<line x1="1487.30" y1="288.92" x2="1502.60" y2="288.92" stroke-width="3.3" stroke-linecap="butt"/>
<line x1="1494.30" y1="252.45" x2="1502.60" y2="252.45" stroke-width="3.3" stroke-linecap="butt"/>
<line x1="1487.30" y1="215.98" x2="1502.60" y2="215.98" stroke-width="3.3" stroke-linecap="butt"/>
<line x1="1494.30" y1="179.51" x2="1502.60" y2="179.51" stroke-width="3.3" stroke-linecap="butt"/>
<line x1="1487.30" y1="143.04" x2="1502.60" y2="143.04" stroke-width="3.3" stroke-linecap="butt"/>
<line x1="1494.30" y1="106.57" x2="1502.60" y2="106.57" stroke-width="3.3" stroke-linecap="butt"/>
<line x1="1487.30" y1="70.10" x2="1502.60" y2="70.10" stroke-width="3.3" stroke-linecap="butt"/>
<line x1="1487.30" y1="434.80" x2="1745.00" y2="434.80" stroke-width="3.3" stroke-linecap="butt"/>
<line x1="1543.00" y1="434.80" x2="1543.00" y2="449.80" stroke-width="3.3" stroke-linecap="butt"/>
<line x1="1624.00" y1="434.80" x2="1624.00" y2="449.80" stroke-width="3.3" stroke-linecap="butt"/>
<line x1="1704.50" y1="434.80" x2="1704.50" y2="449.80" stroke-width="3.3" stroke-linecap="butt"/>
</g>
<g fill="#231f20" font-family="'Liberation Sans', Arial, Helvetica, sans-serif">
<text transform="translate(1481.50,444.40) scale(1,1.035)" font-size="27.5" text-anchor="end">0</text>
<text transform="translate(1481.50,371.46) scale(1,1.035)" font-size="27.5" text-anchor="end">20</text>
<text transform="translate(1481.50,298.52) scale(1,1.035)" font-size="27.5" text-anchor="end">40</text>
<text transform="translate(1481.50,225.58) scale(1,1.035)" font-size="27.5" text-anchor="end">60</text>
<text transform="translate(1481.50,152.64) scale(1,1.035)" font-size="27.5" text-anchor="end">80</text>
<text transform="translate(1481.50,79.70) scale(1,1.035)" font-size="27.5" text-anchor="end">100</text>
<text transform="translate(1543.00,480.60) scale(1,1.035)" font-size="27.5" text-anchor="middle">1:50</text>
<text transform="translate(1624.00,480.60) scale(1,1.035)" font-size="27.5" text-anchor="middle">1:10</text>
<text transform="translate(1704.50,480.60) scale(1,1.035)" font-size="27.5" text-anchor="middle">1:2</text>
<text x="1624.00" y="34.10" font-size="29.6" text-anchor="middle">mRNA/protein</text>
<text x="1621.80" y="524.30" font-size="30.3" text-anchor="middle">serum dilution</text>
<text transform="translate(1419.70,251.40) rotate(-90) scale(1,1.04)" font-size="29.3" text-anchor="middle">%TRA</text>
<text x="1640.60" y="389.40" font-size="24">month-1</text>
<text x="1640.60" y="418.40" font-size="24">month-7</text>
</g>
<g stroke="#231f20" fill="none">
<polyline points="1543.00,269.70 1624.00,138.20 1704.50,71.00" stroke-width="1.75"/>
<polyline points="1543.00,172.50 1624.00,79.10 1704.50,71.00" stroke-width="1.75"/>
<line x1="1543.00" y1="220.80" x2="1543.00" y2="318.50" stroke-width="1.6" stroke-linecap="butt"/>
<line x1="1535.00" y1="220.80" x2="1551.00" y2="220.80" stroke-width="1.6" stroke-linecap="butt"/>
<line x1="1535.00" y1="318.50" x2="1551.00" y2="318.50" stroke-width="1.6" stroke-linecap="butt"/>
<line x1="1624.00" y1="121.30" x2="1624.00" y2="155.00" stroke-width="1.6" stroke-linecap="butt"/>
<line x1="1616.00" y1="121.30" x2="1632.00" y2="121.30" stroke-width="1.6" stroke-linecap="butt"/>
<line x1="1616.00" y1="155.00" x2="1632.00" y2="155.00" stroke-width="1.6" stroke-linecap="butt"/>
<line x1="1543.00" y1="115.00" x2="1543.00" y2="230.40" stroke-width="1.6" stroke-linecap="butt"/>
<line x1="1535.00" y1="115.00" x2="1551.00" y2="115.00" stroke-width="1.6" stroke-linecap="butt"/>
<line x1="1535.00" y1="230.40" x2="1551.00" y2="230.40" stroke-width="1.6" stroke-linecap="butt"/>
<rect x="1535.58" y="262.27" width="14.85" height="14.85" fill="#fff" stroke-width="3.55" stroke-linejoin="round"/>
<rect x="1616.58" y="130.77" width="14.85" height="14.85" fill="#fff" stroke-width="3.55" stroke-linejoin="round"/>
<rect x="1697.08" y="63.58" width="14.85" height="14.85" fill="#fff" stroke-width="3.55" stroke-linejoin="round"/>
<circle cx="1543.00" cy="172.50" r="7.4" fill="#fff" stroke-width="3.5"/>
<circle cx="1624.00" cy="79.10" r="7.4" fill="#fff" stroke-width="3.5"/>
<circle cx="1704.50" cy="71.00" r="7.4" fill="#fff" stroke-width="3.5"/>
<circle cx="1600.00" cy="380.80" r="7.4" fill="#fff" stroke-width="3.5"/>
<rect x="1592.58" y="401.88" width="14.85" height="14.85" fill="#fff" stroke-width="3.55" stroke-linejoin="round"/>
</g>
<g stroke="#231f20" fill="none">
<line x1="1123.50" y1="639.25" x2="1123.50" y2="1005.60" stroke-width="3.3" stroke-linecap="butt"/>
<line x1="1108.20" y1="1005.60" x2="1123.50" y2="1005.60" stroke-width="3.3" stroke-linecap="butt"/>
<line x1="1115.20" y1="969.13" x2="1123.50" y2="969.13" stroke-width="3.3" stroke-linecap="butt"/>
<line x1="1108.20" y1="932.66" x2="1123.50" y2="932.66" stroke-width="3.3" stroke-linecap="butt"/>
<line x1="1115.20" y1="896.19" x2="1123.50" y2="896.19" stroke-width="3.3" stroke-linecap="butt"/>
<line x1="1108.20" y1="859.72" x2="1123.50" y2="859.72" stroke-width="3.3" stroke-linecap="butt"/>
<line x1="1115.20" y1="823.25" x2="1123.50" y2="823.25" stroke-width="3.3" stroke-linecap="butt"/>
<line x1="1108.20" y1="786.78" x2="1123.50" y2="786.78" stroke-width="3.3" stroke-linecap="butt"/>
<line x1="1115.20" y1="750.31" x2="1123.50" y2="750.31" stroke-width="3.3" stroke-linecap="butt"/>
<line x1="1108.20" y1="713.84" x2="1123.50" y2="713.84" stroke-width="3.3" stroke-linecap="butt"/>
<line x1="1115.20" y1="677.37" x2="1123.50" y2="677.37" stroke-width="3.3" stroke-linecap="butt"/>
<line x1="1108.20" y1="640.90" x2="1123.50" y2="640.90" stroke-width="3.3" stroke-linecap="butt"/>
<line x1="1108.20" y1="1005.60" x2="1366.00" y2="1005.60" stroke-width="3.3" stroke-linecap="butt"/>
<line x1="1164.00" y1="1005.60" x2="1164.00" y2="1020.60" stroke-width="3.3" stroke-linecap="butt"/>
<line x1="1245.00" y1="1005.60" x2="1245.00" y2="1020.60" stroke-width="3.3" stroke-linecap="butt"/>
<line x1="1325.50" y1="1005.60" x2="1325.50" y2="1020.60" stroke-width="3.3" stroke-linecap="butt"/>
</g>
<g fill="#231f20" font-family="'Liberation Sans', Arial, Helvetica, sans-serif">
<text transform="translate(1102.40,1015.20) scale(1,1.035)" font-size="27.5" text-anchor="end">0</text>
<text transform="translate(1102.40,942.26) scale(1,1.035)" font-size="27.5" text-anchor="end">20</text>
<text transform="translate(1102.40,869.32) scale(1,1.035)" font-size="27.5" text-anchor="end">40</text>
<text transform="translate(1102.40,796.38) scale(1,1.035)" font-size="27.5" text-anchor="end">60</text>
<text transform="translate(1102.40,723.44) scale(1,1.035)" font-size="27.5" text-anchor="end">80</text>
<text transform="translate(1102.40,650.50) scale(1,1.035)" font-size="27.5" text-anchor="end">100</text>
<text transform="translate(1164.00,1051.00) scale(1,1.035)" font-size="27.5" text-anchor="middle">1:50</text>
<text transform="translate(1245.00,1051.00) scale(1,1.035)" font-size="27.5" text-anchor="middle">1:10</text>
<text transform="translate(1325.50,1051.00) scale(1,1.035)" font-size="27.5" text-anchor="middle">1:2</text>
<text x="1245.50" y="605.90" font-size="29.6" text-anchor="middle">protein/mRNA</text>
<text x="1242.20" y="1091.50" font-size="30.3" text-anchor="middle">serum dilution</text>
<text transform="translate(1039.50,823.00) rotate(-90) scale(1,1.04)" font-size="29.3" text-anchor="middle">%TRA</text>
<text x="1262.40" y="958.70" font-size="24">month-1</text>
<text x="1262.40" y="992.20" font-size="24">month-7</text>
</g>
<g stroke="#231f20" fill="none">
<polyline points="1164.00,809.90 1245.00,704.70 1325.50,642.00" stroke-width="1.75"/>
<polyline points="1164.00,679.70 1245.00,648.10 1325.50,641.10" stroke-width="1.75"/>
<line x1="1164.00" y1="769.00" x2="1164.00" y2="851.20" stroke-width="1.6" stroke-linecap="butt"/>
<line x1="1156.00" y1="769.00" x2="1172.00" y2="769.00" stroke-width="1.6" stroke-linecap="butt"/>
<line x1="1156.00" y1="851.20" x2="1172.00" y2="851.20" stroke-width="1.6" stroke-linecap="butt"/>
<line x1="1245.00" y1="683.60" x2="1245.00" y2="726.00" stroke-width="1.6" stroke-linecap="butt"/>
<line x1="1237.00" y1="683.60" x2="1253.00" y2="683.60" stroke-width="1.6" stroke-linecap="butt"/>
<line x1="1237.00" y1="726.00" x2="1253.00" y2="726.00" stroke-width="1.6" stroke-linecap="butt"/>
<line x1="1164.00" y1="662.90" x2="1164.00" y2="696.70" stroke-width="1.6" stroke-linecap="butt"/>
<line x1="1156.00" y1="662.90" x2="1172.00" y2="662.90" stroke-width="1.6" stroke-linecap="butt"/>
<line x1="1156.00" y1="696.70" x2="1172.00" y2="696.70" stroke-width="1.6" stroke-linecap="butt"/>
<rect x="1156.58" y="802.48" width="14.85" height="14.85" fill="#fff" stroke-width="3.55" stroke-linejoin="round"/>
<rect x="1237.58" y="697.28" width="14.85" height="14.85" fill="#fff" stroke-width="3.55" stroke-linejoin="round"/>
<rect x="1318.08" y="634.58" width="14.85" height="14.85" fill="#fff" stroke-width="3.55" stroke-linejoin="round"/>
<circle cx="1164.00" cy="679.70" r="7.4" fill="#fff" stroke-width="3.5"/>
<circle cx="1245.00" cy="648.10" r="7.4" fill="#fff" stroke-width="3.5"/>
<circle cx="1325.50" cy="641.10" r="7.4" fill="#fff" stroke-width="3.5"/>
<circle cx="1221.00" cy="949.90" r="7.4" fill="#fff" stroke-width="3.5"/>
<rect x="1213.58" y="975.98" width="14.85" height="14.85" fill="#fff" stroke-width="3.55" stroke-linejoin="round"/>
</g>
<g stroke="#231f20" fill="none">
<line x1="1505.70" y1="640.65" x2="1505.70" y2="1007.90" stroke-width="3.3" stroke-linecap="butt"/>
<line x1="1490.40" y1="1007.90" x2="1505.70" y2="1007.90" stroke-width="3.3" stroke-linecap="butt"/>
<line x1="1497.40" y1="971.34" x2="1505.70" y2="971.34" stroke-width="3.3" stroke-linecap="butt"/>
<line x1="1490.40" y1="934.78" x2="1505.70" y2="934.78" stroke-width="3.3" stroke-linecap="butt"/>
<line x1="1497.40" y1="898.22" x2="1505.70" y2="898.22" stroke-width="3.3" stroke-linecap="butt"/>
<line x1="1490.40" y1="861.66" x2="1505.70" y2="861.66" stroke-width="3.3" stroke-linecap="butt"/>
<line x1="1497.40" y1="825.10" x2="1505.70" y2="825.10" stroke-width="3.3" stroke-linecap="butt"/>
<line x1="1490.40" y1="788.54" x2="1505.70" y2="788.54" stroke-width="3.3" stroke-linecap="butt"/>
<line x1="1497.40" y1="751.98" x2="1505.70" y2="751.98" stroke-width="3.3" stroke-linecap="butt"/>
<line x1="1490.40" y1="715.42" x2="1505.70" y2="715.42" stroke-width="3.3" stroke-linecap="butt"/>
<line x1="1497.40" y1="678.86" x2="1505.70" y2="678.86" stroke-width="3.3" stroke-linecap="butt"/>
<line x1="1490.40" y1="642.30" x2="1505.70" y2="642.30" stroke-width="3.3" stroke-linecap="butt"/>
<line x1="1490.40" y1="1007.90" x2="1748.50" y2="1007.90" stroke-width="3.3" stroke-linecap="butt"/>
<line x1="1546.70" y1="1007.90" x2="1546.70" y2="1022.90" stroke-width="3.3" stroke-linecap="butt"/>
<line x1="1627.50" y1="1007.90" x2="1627.50" y2="1022.90" stroke-width="3.3" stroke-linecap="butt"/>
<line x1="1708.10" y1="1007.90" x2="1708.10" y2="1022.90" stroke-width="3.3" stroke-linecap="butt"/>
</g>
<g fill="#231f20" font-family="'Liberation Sans', Arial, Helvetica, sans-serif">
<text transform="translate(1484.60,1017.50) scale(1,1.035)" font-size="27.5" text-anchor="end">0</text>
<text transform="translate(1484.60,944.38) scale(1,1.035)" font-size="27.5" text-anchor="end">20</text>
<text transform="translate(1484.60,871.26) scale(1,1.035)" font-size="27.5" text-anchor="end">40</text>
<text transform="translate(1484.60,798.14) scale(1,1.035)" font-size="27.5" text-anchor="end">60</text>
<text transform="translate(1484.60,725.02) scale(1,1.035)" font-size="27.5" text-anchor="end">80</text>
<text transform="translate(1484.60,651.90) scale(1,1.035)" font-size="27.5" text-anchor="end">100</text>
<text transform="translate(1546.70,1054.00) scale(1,1.035)" font-size="27.5" text-anchor="middle">1:50</text>
<text transform="translate(1627.50,1054.00) scale(1,1.035)" font-size="27.5" text-anchor="middle">1:10</text>
<text transform="translate(1708.10,1054.00) scale(1,1.035)" font-size="27.5" text-anchor="middle">1:2</text>
<text x="1628.70" y="605.90" font-size="29.6" text-anchor="middle">protein/protein</text>
<text x="1624.40" y="1092.40" font-size="30.3" text-anchor="middle">serum dilution</text>
<text transform="translate(1421.70,824.90) rotate(-90) scale(1,1.04)" font-size="29.3" text-anchor="middle">%TRA</text>
<text x="1641.50" y="964.80" font-size="24">month-1</text>
<text x="1641.50" y="996.30" font-size="24">month-7</text>
</g>
<g stroke="#231f20" fill="none">
<polyline points="1546.70,951.80 1627.50,888.60 1708.10,777.40" stroke-width="1.75"/>
<polyline points="1546.70,738.60 1627.50,653.00 1708.10,645.70" stroke-width="1.75"/>
<line x1="1546.70" y1="874.50" x2="1546.70" y2="1007.90" stroke-width="1.6" stroke-linecap="butt"/>
<line x1="1538.70" y1="874.50" x2="1554.70" y2="874.50" stroke-width="1.6" stroke-linecap="butt"/>
<line x1="1627.50" y1="812.70" x2="1627.50" y2="963.60" stroke-width="1.6" stroke-linecap="butt"/>
<line x1="1619.50" y1="812.70" x2="1635.50" y2="812.70" stroke-width="1.6" stroke-linecap="butt"/>
<line x1="1619.50" y1="963.60" x2="1635.50" y2="963.60" stroke-width="1.6" stroke-linecap="butt"/>
<line x1="1708.10" y1="710.70" x2="1708.10" y2="842.70" stroke-width="1.6" stroke-linecap="butt"/>
<line x1="1700.10" y1="710.70" x2="1716.10" y2="710.70" stroke-width="1.6" stroke-linecap="butt"/>
<line x1="1700.10" y1="842.70" x2="1716.10" y2="842.70" stroke-width="1.6" stroke-linecap="butt"/>
<line x1="1546.70" y1="680.90" x2="1546.70" y2="796.10" stroke-width="1.6" stroke-linecap="butt"/>
<line x1="1538.70" y1="680.90" x2="1554.70" y2="680.90" stroke-width="1.6" stroke-linecap="butt"/>
<line x1="1538.70" y1="796.10" x2="1554.70" y2="796.10" stroke-width="1.6" stroke-linecap="butt"/>
<rect x="1539.28" y="944.38" width="14.85" height="14.85" fill="#fff" stroke-width="3.55" stroke-linejoin="round"/>
<rect x="1620.08" y="881.18" width="14.85" height="14.85" fill="#fff" stroke-width="3.55" stroke-linejoin="round"/>
<rect x="1700.67" y="769.98" width="14.85" height="14.85" fill="#fff" stroke-width="3.55" stroke-linejoin="round"/>
<circle cx="1546.70" cy="738.60" r="7.4" fill="#fff" stroke-width="3.5"/>
<circle cx="1627.50" cy="653.00" r="7.4" fill="#fff" stroke-width="3.5"/>
<circle cx="1708.10" cy="645.70" r="7.4" fill="#fff" stroke-width="3.5"/>
<circle cx="1600.30" cy="956.00" r="7.4" fill="#fff" stroke-width="3.5"/>
<rect x="1592.88" y="980.08" width="14.85" height="14.85" fill="#fff" stroke-width="3.55" stroke-linejoin="round"/>
</g>
</svg>
</body></html>
